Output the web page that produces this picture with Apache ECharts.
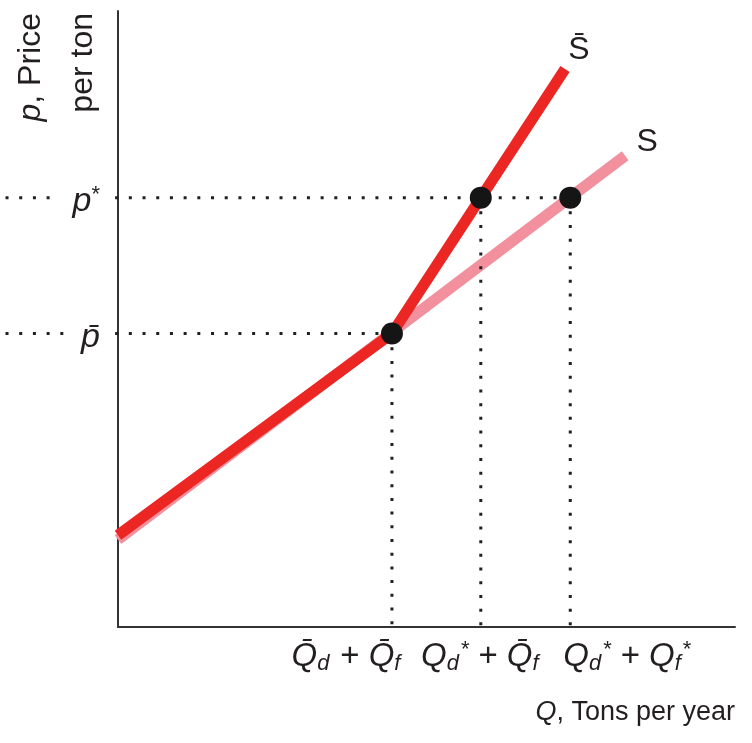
<!DOCTYPE html>
<html>
<head>
<meta charset="utf-8">
<script src="https://cdn.jsdelivr.net/npm/echarts@6/dist/echarts.min.js"></script>
<style>
html,body{margin:0;padding:0;background:#fff;}
#chart{width:752px;height:743px;}
</style>
</head>
<body>
<div id="chart"></div>
<script>
// ---- data (model units) ----
const qBar = 4.44;        // Q̄d + Q̄f
const qMid = 5.88;        // Qd* + Q̄f
const qStar = 7.33;       // Qd* + Qf*
const pBar = 4.765;       // p̄
const pStar = 6.97;       // p*
const supplyS = [[0, 1.42], [8.22, 7.65]];
const supplySbar = [[0, 1.49], [4.44, 4.765], [7.245, 9.06]];
const equilibria = [[qBar, pBar], [qMid, pStar], [qStar, pStar]];
const xTickLabels = ['{q|Q̄}{s|d}{t|+}{q|Q̄}{s|f}', '{q|Q}{s|d}{u|*}{t|+}{q|Q̄}{s|f}', '{q|Q}{s|d}{u|*}{t|+}{q|Q}{s|f}{u|*}'];
const yTickLabels = ['{p|p̄}', '{p|p}{u|*}'];
const seriesNames = ['S̄', 'S'];

const FONT = 'Liberation Sans, Arial, Helvetica, sans-serif';
const INK = '#231f20';
const RED = '#ec2623';
const PINK = '#f2909e';
const AXIS = '#333333';
// left overlay grid (for the dotted guides that run past the price axis)
const overlayMin = -1.9125;
const dotStart = -1.823;

const richX = {
  q: {fontFamily: FONT, fontStyle: 'italic', fontSize: 33, lineHeight: 36, color: INK},
  s: {fontFamily: FONT, fontStyle: 'italic', fontSize: 22, lineHeight: 16, verticalAlign: 'bottom', padding: [0, 2, 0, 0], color: INK},
  u: {fontFamily: FONT, fontSize: 22, lineHeight: 10, verticalAlign: 'top', color: INK},
  t: {fontFamily: FONT, fontSize: 33, lineHeight: 36, padding: [0, 9, 0, 9], color: INK}
};
const richY = {
  p: {fontFamily: FONT, fontStyle: 'italic', fontSize: 34, lineHeight: 36, color: INK},
  u: {fontFamily: FONT, fontSize: 22, lineHeight: 10, verticalAlign: 'top', color: INK}
};

const dotted = {color: INK, width: 3, type: [3, 10.7], cap: 'butt'};

function hLine(p, qEnd, lbl) {
  return {
    type: 'line', xAxisIndex: 1, yAxisIndex: 1, clip: false, silent: true, z: 3,
    symbolSize: 0, showSymbol: true,
    lineStyle: dotted,
    data: [
      [dotStart, p],
      {value: [0, p], label: {show: true, position: 'left', distance: 3, offset: [0, 4], formatter: lbl, rich: richY,
        backgroundColor: '#fff', padding: [0, 15, 0, 14]}},
      [qEnd, p]
    ]
  };
}
const xOffsets = [-45, 0, 57];
function vLine(q, p, i) {
  return {
    type: 'line', clip: false, silent: true, z: 3,
    symbolSize: 0, showSymbol: true,
    lineStyle: dotted,
    data: [
      [q, p],
      {value: [q, 0], label: {show: true, position: 'bottom', distance: 12, offset: [xOffsets[i], 0],
        formatter: xTickLabels[i], rich: richX}}
    ]
  };
}

const hiddenAxis = {axisLine: {show: false}, axisTick: {show: false}, axisLabel: {show: false}, splitLine: {show: false}};

const chart = echarts.init(document.getElementById('chart'));
chart.setOption({
  animation: false,
  grid: [
    {left: 118, right: 17, top: 11, bottom: 116},
    {left: 0, right: 17, top: 11, bottom: 116}
  ],
  xAxis: [
    {type: 'value', gridIndex: 0, min: 0, max: 10,
      axisLine: {show: true, onZero: false, lineStyle: {color: AXIS, width: 2}},
      axisTick: {show: false}, axisLabel: {show: false}, splitLine: {show: false}},
    Object.assign({type: 'value', gridIndex: 1, min: overlayMin, max: 10}, hiddenAxis)
  ],
  yAxis: [
    {type: 'value', gridIndex: 0, min: 0, max: 10,
      axisLine: {show: true, onZero: false, lineStyle: {color: AXIS, width: 2}},
      axisTick: {show: false}, axisLabel: {show: false}, splitLine: {show: false}},
    Object.assign({type: 'value', gridIndex: 1, min: 0, max: 10}, hiddenAxis)
  ],
  graphic: [
    {type: 'text', x: 57, y: 13, rotation: Math.PI / 2,
      style: {text: '{pi|p}, Price\nper ton', align: 'right', verticalAlign: 'middle',
        fontFamily: FONT, fontSize: 32, lineHeight: 52, fill: INK,
        rich: {pi: {fontFamily: FONT, fontStyle: 'italic', fontSize: 32, lineHeight: 52, color: INK}}}},
    {type: 'text', right: 17, top: 699,
      style: {text: '{qi|Q}, Tons per year', fontFamily: FONT, fontSize: 27, fill: INK,
        rich: {qi: {fontFamily: FONT, fontStyle: 'italic', fontSize: 27, color: INK}}}}
  ],
  series: [
    {name: seriesNames[1], type: 'line', silent: true, z: 2, symbolSize: 0, showSymbol: true,
      lineStyle: {color: PINK, width: 11, cap: 'butt'},
      data: [supplyS[0], {value: supplyS[1], label: {show: true, position: 'inside', offset: [22, -14],
        formatter: seriesNames[1], fontFamily: FONT, fontSize: 32, color: INK}}]},
    {name: seriesNames[0], type: 'line', silent: true, z: 2, symbolSize: 0, showSymbol: true,
      lineStyle: {color: RED, width: 11, cap: 'butt', join: 'miter'},
      data: [supplySbar[0], supplySbar[1], {value: supplySbar[2], label: {show: true, position: 'inside', offset: [14, -19],
        formatter: seriesNames[0], fontFamily: FONT, fontSize: 32, color: INK}}]},
    hLine(pBar, qBar, yTickLabels[0]),
    hLine(pStar, qStar, yTickLabels[1]),
    vLine(qBar, pBar, 0),
    vLine(qMid, pStar, 1),
    vLine(qStar, pStar, 2),
    {type: 'scatter', silent: true, z: 4, symbolSize: 22, itemStyle: {color: '#151515', opacity: 1}, data: equilibria}
  ]
});
</script>
</body>
</html>
